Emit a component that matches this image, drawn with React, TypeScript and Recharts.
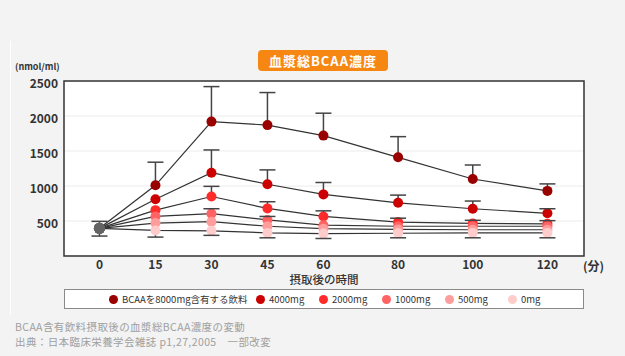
import React from 'react';
import { LineChart, Line, XAxis, YAxis, CartesianGrid, ErrorBar, ReferenceArea } from 'recharts';

const FONT = '"Noto Sans CJK JP", "Noto Sans", sans-serif';

// minutes after intake
const times = [0, 15, 30, 45, 60, 80, 100, 120];
const yTicks = [500, 1000, 1500, 2000, 2500];
const xDomain = [-9.5, 129.8];

const names = ['BCAAを8000mg含有する飲料', '4000mg', '2000mg', '1000mg', '500mg', '0mg'];
const colors = ['#990000', '#cc0000', '#ff2b2b', '#ff6363', '#ff9c9c', '#ffcccc'];

// plasma total BCAA (nmol/ml)
const mg8000 = [395, 1010, 1920, 1870, 1720, 1410, 1100, 930];
const mg4000 = [395, 810, 1190, 1025, 880, 760, 675, 610];
const mg2000 = [395, 655, 850, 680, 565, 485, 465, 460];
const mg1000 = [395, 565, 605, 515, 440, 425, 425, 425];
const mg500 = [395, 470, 490, 425, 390, 380, 375, 375];
const mg0 = [395, 365, 360, 330, 320, 325, 330, 330];

// error bars: upward and downward lengths
const up8000 = [0, 330, 500, 465, 320, 295, 200, 100];
const up4000 = [0, 0, 325, 205, 170, 110, 110, 65];
const up2000 = [0, 0, 145, 95, 80, 55, 45, 45];
const up1000 = [0, 0, 70, 50, 0, 0, 0, 0];
const up500 = [0, 0, 0, 0, 0, 0, 0, 0];
const up0 = [100, 0, 0, 0, 0, 0, 0, 0];
const down0 = [110, 95, 65, 70, 70, 65, 70, 70];

const values = [mg8000, mg4000, mg2000, mg1000, mg500, mg0];
const ups = [up8000, up4000, up2000, up1000, up500, up0];
const downs = [null, null, null, null, null, down0];

const data = times.map((t, i) => {
  const row: any = { t };
  values.forEach((v, s) => {
    const u = ups[s][i];
    const d = downs[s] ? downs[s]![i] : 0;
    row[`v${s}`] = v[i];
    row[`e${s}`] = u || d ? [d, u] : null;
    row[`hi${s}`] = u ? v[i] + u : null;
    row[`lo${s}`] = d ? v[i] - d : null;
  });
  return row;
});

const makeDot = (color: string) => (p: any) => {
  if (p.cx == null || p.cy == null) return <g key={`d-${p.index}`} />;
  return (
    <circle
      key={`d-${p.index}`}
      cx={p.cx}
      cy={p.cy}
      r={p.index === 0 ? 5.5 : 5}
      fill={p.index === 0 ? '#646464' : color}
    />
  );
};

const capDot = (p: any) => {
  if (p.cx == null || p.cy == null) return <g key={`c-${p.index}`} />;
  return (
    <line
      key={`c-${p.index}`}
      x1={p.cx - 8}
      x2={p.cx + 8}
      y1={p.cy}
      y2={p.cy}
      stroke="#444"
      strokeWidth={1.5}
    />
  );
};

const tickStyle = { fontSize: 12, fontWeight: 700, fill: '#333', fontFamily: FONT };

export default function App() {
  return (
    <div
      style={{
        position: 'absolute',
        left: 0,
        top: 0,
        width: 625,
        height: 356,
        background: '#f3f3f3',
        fontFamily: FONT,
        overflow: 'hidden',
      }}
    >
      <div style={{ position: 'absolute', left: 10, top: 41, width: 1, height: 274, background: '#fff' }} />

      <div
        style={{
          position: 'absolute',
          left: 258,
          top: 50,
          width: 130,
          height: 21,
          background: '#f68712',
          borderRadius: 4,
          color: '#fff',
          fontSize: 13,
          fontWeight: 700,
          letterSpacing: 1,
          lineHeight: '21px',
          textAlign: 'center',
        }}
      >
        血漿総BCAA濃度
      </div>

      <div
        style={{
          position: 'absolute',
          left: 15,
          top: 62,
          height: 10,
          fontSize: 9,
          lineHeight: '10px',
          fontWeight: 700,
          color: '#333',
        }}
      >
        (nmol/ml)
      </div>

      <div style={{ position: 'absolute', left: 0, top: 0 }}>
        <LineChart width={625} height={356} data={data} margin={{ top: 81, right: 41, left: 4, bottom: 80 }}>
          <CartesianGrid vertical={false} stroke="#ececec" fill="#fff" />
          <XAxis
            type="number"
            dataKey="t"
            domain={xDomain}
            ticks={times}
            allowDataOverflow
            axisLine={false}
            tickLine={false}
            tickSize={0}
            tickMargin={4}
            height={20}
            tick={tickStyle}
            interval={0}
          />
          <YAxis
            domain={[0, 2500]}
            ticks={yTicks}
            allowDataOverflow
            axisLine={false}
            tickLine={false}
            tickSize={0}
            tickMargin={6}
            width={60}
            tick={{ ...tickStyle, dy: 2.5 }}
            interval={0}
          />
          <ReferenceArea
            x1={xDomain[0]}
            x2={xDomain[1]}
            y1={0}
            y2={2500}
            fill="none"
            stroke="#333"
            strokeWidth={1.5}
            ifOverflow="visible"
          />
          {values.map((_, s) => (
            <Line
              key={`v${s}`}
              dataKey={`v${s}`}
              type="linear"
              stroke="#333"
              strokeWidth={1.2}
              dot={makeDot(colors[s])}
              activeDot={false}
              isAnimationActive={false}
            >
              <ErrorBar dataKey={`e${s}`} width={0} stroke="#444" strokeWidth={1.5} direction="y" />
            </Line>
          ))}
          {values.map((_, s) => (
            <Line
              key={`hi${s}`}
              dataKey={`hi${s}`}
              stroke="none"
              dot={capDot}
              activeDot={false}
              legendType="none"
              isAnimationActive={false}
            />
          ))}
          {values.map((_, s) => (
            <Line
              key={`lo${s}`}
              dataKey={`lo${s}`}
              stroke="none"
              dot={capDot}
              activeDot={false}
              legendType="none"
              isAnimationActive={false}
            />
          ))}
        </LineChart>
      </div>

      <div style={{ position: 'absolute', left: 583, top: 257, fontSize: 12, fontWeight: 700, color: '#333' }}>
        (分)
      </div>
      <div
        style={{
          position: 'absolute',
          left: 224,
          width: 200,
          top: 271,
          textAlign: 'center',
          fontSize: 11.5,
          fontWeight: 500,
          color: '#333',
        }}
      >
        摂取後の時間
      </div>

      <div
        style={{
          position: 'absolute',
          left: 64,
          top: 289,
          width: 474,
          height: 18,
          background: '#fff',
          border: '1px solid #8a8a8a',
          display: 'flex',
          alignItems: 'center',
          paddingLeft: 44,
          boxSizing: 'content-box',
        }}
      >
        {names.map((n, s) => (
          <div
            key={n}
            style={{ display: 'flex', alignItems: 'center', width: s === 0 ? 147 : 63, flexShrink: 0 }}
          >
            <span
              style={{ width: 9, height: 9, borderRadius: '50%', background: colors[s], marginRight: 4, flexShrink: 0 }}
            />
            <span style={{ fontSize: 9.5, color: '#333', whiteSpace: 'nowrap' }}>{n}</span>
          </div>
        ))}
      </div>

      <div
        style={{ position: 'absolute', left: 15, top: 320, fontSize: 10.5, letterSpacing: 0.4, color: '#a0a0a0' }}
      >
        <div style={{ height: 14.5, lineHeight: '14.5px' }}>BCAA含有飲料摂取後の血漿総BCAA濃度の変動</div>
        <div style={{ height: 14.5, lineHeight: '14.5px' }}>出典：日本臨床栄養学会雑誌 p1,27,2005　一部改変</div>
      </div>
    </div>
  );
}
